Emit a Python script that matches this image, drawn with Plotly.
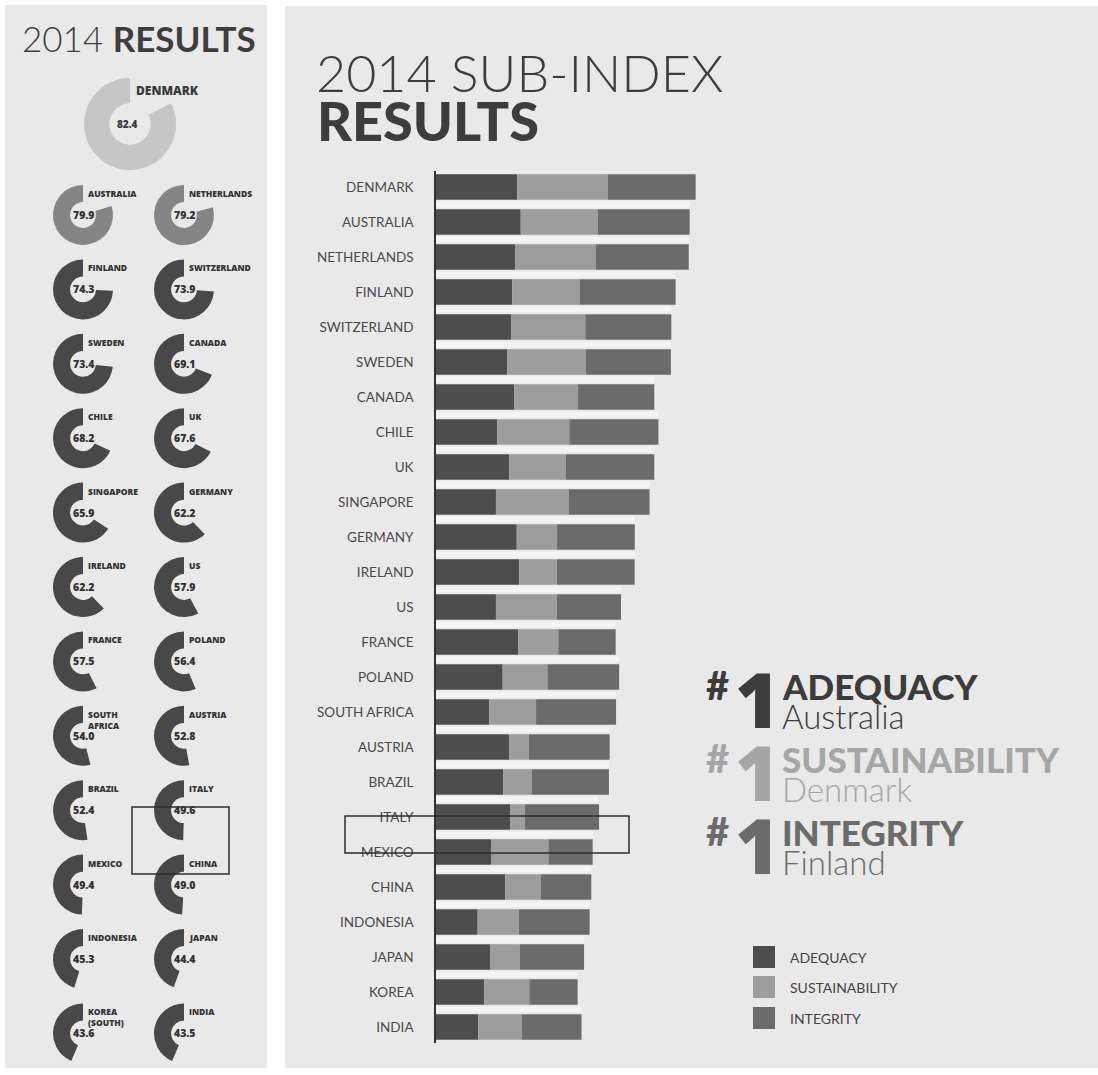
import plotly.graph_objects as go

W, H = 1098, 1075

# ---- sub-index scores (bar chart) ----
countries = ["DENMARK", "AUSTRALIA", "NETHERLANDS", "FINLAND", "SWITZERLAND", "SWEDEN",
             "CANADA", "CHILE", "UK", "SINGAPORE", "GERMANY", "IRELAND", "US", "FRANCE",
             "POLAND", "SOUTH AFRICA", "AUSTRIA", "BRAZIL", "ITALY", "MEXICO", "CHINA",
             "INDONESIA", "JAPAN", "KOREA", "INDIA"]
adequacy = [77.4, 80.7, 75.2, 72.7, 71.4, 67.9, 74.6, 58.4, 69.8, 57.1, 76.9, 79.3, 57.1,
            78.4, 63.5, 50.8, 69.5, 64.1, 70.5, 52.4, 66.0, 39.7, 51.4, 46.0, 40.3]
sustainability = [86.1, 73.3, 76.9, 64.1, 70.8, 74.6, 60.3, 68.6, 54.0, 69.2, 38.4, 35.9, 58.1,
                  38.1, 42.6, 44.5, 19.0, 27.3, 14.3, 54.6, 33.6, 39.3, 28.6, 42.9, 41.2]
integrity = [83.8, 87.6, 88.6, 91.4, 81.9, 81.2, 73.0, 84.8, 84.1, 77.1, 74.0, 74.0, 61.0,
             54.6, 68.3, 76.2, 76.9, 73.3, 70.5, 42.2, 48.3, 67.3, 61.0, 46.0, 57.1]

# ---- overall index (donuts) ----
index_names = ["DENMARK", "AUSTRALIA", "NETHERLANDS", "FINLAND", "SWITZERLAND", "SWEDEN",
               "CANADA", "CHILE", "UK", "SINGAPORE", "GERMANY", "IRELAND", "US", "FRANCE",
               "POLAND", "SOUTH<br>AFRICA", "AUSTRIA", "BRAZIL", "ITALY", "MEXICO", "CHINA",
               "INDONESIA", "JAPAN", "KOREA<br>(SOUTH)", "INDIA"]
index_values = [82.4, 79.9, 79.2, 74.3, 73.9, 73.4, 69.1, 68.2, 67.6, 65.9, 62.2, 62.2, 57.9,
                57.5, 56.4, 54.0, 52.8, 52.4, 49.6, 49.4, 49.0, 45.3, 44.4, 43.6, 43.5]

legend_labels = ["ADEQUACY", "SUSTAINABILITY", "INTEGRITY"]
top_ranked = ["Australia", "Denmark", "Finland"]

C_ADQ, C_SUS, C_INT = "#4d4d4d", "#9d9d9d", "#6b6b6b"
BG = "#e9e9e9"
FONT = "Lato"


def px(x):
    return x / W


def py(y):
    return 1 - y / H


def grade_color(v):
    if v >= 80:
        return "#c6c6c6"
    if v >= 75:
        return "#858585"
    return "#484848"


fig = go.Figure()

# ---- stacked sub-index bars ----
ypos = list(range(len(countries)))
totals = [a + s + i for a, s, i in zip(adequacy, sustainability, integrity)]
base_s = adequacy
base_i = [a + s for a, s in zip(adequacy, sustainability)]

fig.add_trace(go.Bar(y=ypos, x=totals, base=0, orientation="h", width=0.17, offset=-0.585,
                     marker=dict(color="#f4f4f4", line_width=0), hoverinfo="skip",
                     showlegend=False))
for vals, base, col, name in [(adequacy, [0] * len(ypos), C_ADQ, "ADEQUACY"),
                              (sustainability, base_s, C_SUS, "SUSTAINABILITY"),
                              (integrity, base_i, C_INT, "INTEGRITY")]:
    fig.add_trace(go.Bar(y=ypos, x=vals, base=base, orientation="h", width=0.73,
                         marker=dict(color=col, line_width=0), name=name,
                         showlegend=False))


# ---- donuts of the overall index ----
# the empty share comes first (clockwise from 12 o'clock), so the filled arc
# runs round the left side and ends at 12 o'clock
def donut(value, cx, cy, r, hole):
    fig.add_trace(go.Pie(
        values=[100 - value, value], sort=False, direction="clockwise", rotation=0,
        hole=hole, textinfo="none", hoverinfo="skip", showlegend=False,
        marker=dict(colors=["rgba(0,0,0,0)", grade_color(value)], line=dict(width=0)),
        domain=dict(x=[px(cx - r), px(cx + r)], y=[py(cy + r), py(cy - r)])))


annotations = []
shapes = []

# first place, larger
donut(index_values[0], 130, 124, 46, 0.45)
annotations.append(dict(x=px(134), y=py(91), xref="paper", yref="paper", text=index_names[0],
                        showarrow=False, xanchor="left", yanchor="middle",
                        font=dict(family="Open Sans", size=12, color="#3a3a3a", weight=800)))
annotations.append(dict(x=px(115), y=py(124), xref="paper", yref="paper",
                        text=f"{index_values[0]:.1f}", showarrow=False, xanchor="left",
                        yanchor="middle",
                        font=dict(family="Open Sans", size=10, color="#3a3a3a", weight=800)))

col_x = [83, 184]
for k in range(1, len(index_names)):
    row = (k - 1) // 2
    cx = col_x[(k - 1) % 2]
    cy = 215 + 74.4 * row
    donut(index_values[k], cx, cy, 30, 0.43)
    annotations.append(dict(x=px(cx + 3), y=py(cy - 29), xref="paper", yref="paper",
                            text=index_names[k], showarrow=False, xanchor="left",
                            yanchor="top", align="left",
                            font=dict(family="Open Sans", size=8.5, color="#333333",
                                      weight=800)))
    annotations.append(dict(x=px(cx - 12), y=py(cy), xref="paper", yref="paper",
                            text=f"{index_values[k]:.1f}", showarrow=False, xanchor="left",
                            yanchor="middle",
                            font=dict(family="Open Sans", size=10.5, color="#333333",
                                      weight=800)))

# ---- panels ----
shapes.append(dict(type="rect", xref="paper", yref="paper", x0=px(5), x1=px(267),
                   y0=py(1068), y1=py(5), fillcolor=BG, line_width=0, layer="below"))
shapes.append(dict(type="rect", xref="paper", yref="paper", x0=px(285), x1=px(1098),
                   y0=py(1068), y1=py(6), fillcolor=BG, line_width=0, layer="below"))

# ---- outlined boxes ----
shapes.append(dict(type="rect", xref="paper", yref="paper", x0=px(132), x1=px(229),
                   y0=py(874), y1=py(807), line=dict(color="#2e2e2e", width=1.5),
                   fillcolor="rgba(0,0,0,0)", layer="above"))
shapes.append(dict(type="rect", xref="paper", yref="paper", x0=px(345), x1=px(629),
                   y0=py(853), y1=py(816), line=dict(color="#2e2e2e", width=1.5),
                   fillcolor="rgba(0,0,0,0)", layer="above"))

# ---- titles ----
annotations.append(dict(x=px(20), y=py(38), xref="paper", yref="paper",
                        text="2014 <b>RESULTS</b>", showarrow=False, xanchor="left",
                        yanchor="middle",
                        font=dict(family=FONT, size=35, color="#3d3d3d", weight=300)))
annotations.append(dict(x=px(314), y=py(72), xref="paper", yref="paper",
                        text="2014 SUB-INDEX", showarrow=False, xanchor="left",
                        yanchor="middle",
                        font=dict(family=FONT, size=52, color="#3d3d3d", weight=300)))
annotations.append(dict(x=px(315), y=py(121), xref="paper", yref="paper",
                        text="RESULTS", showarrow=False, xanchor="left", yanchor="middle",
                        font=dict(family=FONT, size=54, color="#3d3d3d", weight=900)))

# ---- number-one callouts ----
callout_cols = ["#3c3c3c", "#a6a6a6", "#6b6b6b"]
callout_y = [686, 759, 832]
for name, country, col, yc in zip(legend_labels, top_ranked, callout_cols, callout_y):
    annotations.append(dict(x=px(704), y=py(yc - 1), xref="paper", yref="paper", text="#",
                            showarrow=False, xanchor="left", yanchor="middle",
                            font=dict(family=FONT, size=40, color=col, weight=900)))
    annotations.append(dict(x=px(733), y=py(yc + 12), xref="paper", yref="paper", text="1",
                            showarrow=False, xanchor="left", yanchor="middle",
                            font=dict(family="Open Sans", size=76, color=col, weight=800)))
    annotations.append(dict(x=px(780), y=py(yc), xref="paper", yref="paper", text=name,
                            showarrow=False, xanchor="left", yanchor="middle",
                            font=dict(family=FONT, size=35, color=col, weight=900)))
    annotations.append(dict(x=px(780), y=py(yc + 30), xref="paper", yref="paper",
                            text=country, showarrow=False, xanchor="left", yanchor="middle",
                            font=dict(family=FONT, size=33, color=col, weight=300)))

# ---- legend ----
for lab, col, yc in zip(legend_labels, [C_ADQ, C_SUS, C_INT], [957, 987, 1018]):
    shapes.append(dict(type="rect", xref="paper", yref="paper", x0=px(753), x1=px(775),
                       y0=py(yc + 11), y1=py(yc - 11), fillcolor=col, line_width=0))
    annotations.append(dict(x=px(788), y=py(yc), xref="paper", yref="paper", text=lab,
                            showarrow=False, xanchor="left", yanchor="middle",
                            font=dict(family=FONT, size=14, color="#444444")))

fig.update_layout(
    width=W, height=H, margin=dict(l=0, r=0, t=0, b=0),
    paper_bgcolor="white", plot_bgcolor="rgba(0,0,0,0)",
    barmode="overlay", showlegend=False,
    xaxis=dict(domain=[px(436), px(436 + 250 * 1.05)], range=[0, 250], visible=False),
    yaxis=dict(domain=[py(1042.75), py(171.25)], range=[24.45, -0.45],
               tickvals=ypos, ticktext=countries, ticks="", showgrid=False, zeroline=False,
               showline=True, linecolor="#333333", linewidth=1.5, ticklabelstandoff=18,
               tickfont=dict(family=FONT, size=13.5, color="#4a4a4a")),
    shapes=shapes, annotations=annotations,
)

fig.write_html("out.html")
